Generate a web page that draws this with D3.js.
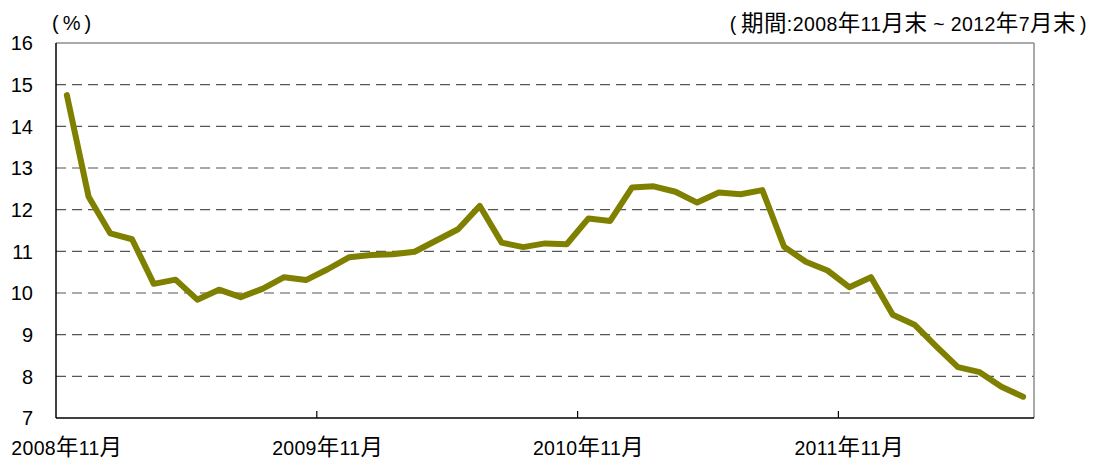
<!DOCTYPE html>
<html>
<head>
<meta charset="utf-8">
<script src="https://cdn.jsdelivr.net/npm/d3@7"></script>
<style>
body { margin: 0; background: #fff; }
svg { font-family: "Liberation Sans", Arial, "Noto Sans CJK JP", sans-serif; }
</style>
</head>
<body>
<svg width="1093" height="459"></svg>
<script>
// monthly, 2008/11 .. 2012/7
var months = ["2008-11","2008-12","2009-01","2009-02","2009-03","2009-04","2009-05","2009-06","2009-07","2009-08","2009-09","2009-10",
  "2009-11","2009-12","2010-01","2010-02","2010-03","2010-04","2010-05","2010-06","2010-07","2010-08","2010-09","2010-10",
  "2010-11","2010-12","2011-01","2011-02","2011-03","2011-04","2011-05","2011-06","2011-07","2011-08","2011-09","2011-10",
  "2011-11","2011-12","2012-01","2012-02","2012-03","2012-04","2012-05","2012-06","2012-07"]
var values = [14.75,12.31,11.43,11.29,10.22,10.32,9.84,10.08,9.90,10.10,10.38,10.31,
  10.57,10.86,10.91,10.93,10.99,11.26,11.53,12.09,11.21,11.10,11.19,11.17,
  11.79,11.73,12.53,12.56,12.43,12.17,12.41,12.37,12.47,11.11,10.75,10.54,
  10.14,10.38,9.48,9.24,8.72,8.22,8.10,7.75,7.51]
var xTickMonths = ["2008-11","2009-11","2010-11","2011-11"]
var xTickLabels = ["2008年11月","2009年11月","2010年11月","2011年11月"]
var yTicks = [7,8,9,10,11,12,13,14,15,16]

var margins = {top: 43, right: 59, bottom: 41, left: 56}
var width = 1093 - margins.left - margins.right
var height = 459 - margins.top - margins.bottom

var svg = d3.select("svg")
var g = svg.append("g")
    .attr("transform", "translate(" + margins.left + "," + margins.top + ")")

// kanji come out a bit bigger than the digits in the original
var mixedText = function(sel, str, size, bigSize)
{
    var runs = str.match(/[\u3000-\u9fff\uff00-\uffef]+|[^\u3000-\u9fff\uff00-\uffef]+/g)
    runs.forEach(function(r){
        var cjk = /[\u3000-\u9fff]/.test(r)
        sel.append("tspan")
            .attr("font-size", cjk ? bigSize : size)
            .text(r)
    })
}

var xScale = d3.scaleBand()
    .domain(months)
    .range([0, width])
var yScale = d3.scaleLinear()
    .domain([7, 16])
    .range([height, 0])

// grid
g.selectAll(".grid")
    .data(yTicks.filter(function(d){return d > 7 && d < 16}))
    .enter()
    .append("line")
    .attr("x1", 0)
    .attr("x2", width)
    .attr("y1", function(d){return yScale(d)})
    .attr("y2", function(d){return yScale(d)})
    .attr("stroke", "#555")
    .attr("stroke-width", 1.2)
    .attr("stroke-dasharray", "10,6")

// frame (top/right gray)
g.append("line").attr("x1", 0).attr("x2", width).attr("y1", 0).attr("y2", 0)
    .attr("stroke", "#8c8c8c").attr("stroke-width", 1.5)
g.append("line").attr("x1", width).attr("x2", width).attr("y1", 0).attr("y2", height)
    .attr("stroke", "#8c8c8c").attr("stroke-width", 1.5)

// y labels
g.selectAll(".ylab")
    .data(yTicks)
    .enter()
    .append("text")
    .attr("x", -23)
    .attr("y", function(d){return yScale(d)})
    .attr("dy", "0.36em")
    .attr("text-anchor", "end")
    .attr("font-size", 20)
    .attr("fill", "#000")
    .text(function(d){return d})

// axes lines
g.append("line").attr("x1", 0).attr("x2", 0).attr("y1", 0).attr("y2", height)
    .attr("stroke", "#000").attr("stroke-width", 1.5)
g.append("line").attr("x1", 0).attr("x2", width).attr("y1", height).attr("y2", height)
    .attr("stroke", "#000").attr("stroke-width", 1.5)

// x ticks at category boundaries, labels at month centre
g.selectAll(".xtick")
    .data(xTickMonths.slice(1))
    .enter()
    .append("line")
    .attr("x1", function(d){return xScale(d)})
    .attr("x2", function(d){return xScale(d)})
    .attr("y1", height)
    .attr("y2", height - 7)
    .attr("stroke", "#000")
    .attr("stroke-width", 1.2)

g.selectAll(".xlab")
    .data(xTickMonths)
    .enter()
    .append("text")
    .attr("x", function(d){return xScale(d) + xScale.bandwidth() / 2})
    .attr("y", height + 37)
    .attr("text-anchor", "middle")
    .attr("letter-spacing", 0.3)
    .attr("fill", "#000")
    .each(function(d, i){ mixedText(d3.select(this), xTickLabels[i], 19.5, 22.5) })

// the line
var lineGenerator = d3.line()
    .x(function(d, i){return xScale(months[i]) + xScale.bandwidth() / 2})
    .y(function(d){return yScale(d)})

g.append("path")
    .datum(values)
    .attr("d", lineGenerator)
    .attr("fill", "none")
    .attr("stroke", "#808000")
    .attr("stroke-width", 6)
    .attr("stroke-linejoin", "round")
    .attr("stroke-linecap", "round")

// unit + period notes
svg.append("text")
    .attr("x", 52)
    .attr("y", 30)
    .attr("font-size", 20)
    .text("(\u2009%\u2009)")
var note = svg.append("text")
    .attr("x", 1087)
    .attr("y", 31)
    .attr("text-anchor", "end")
    .attr("letter-spacing", 0.4)
mixedText(note, "(\u2009期間:2008年11月末 ~ 2012年7月末\u2009)", 19.5, 22.5)
</script>
</body>
</html>
